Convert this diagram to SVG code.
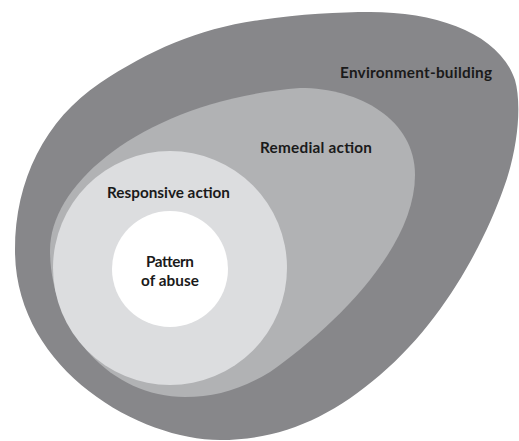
<svg xmlns="http://www.w3.org/2000/svg" width="519" height="441" viewBox="0 0 519 441">
<style>
.lbl{font-family:Lato,"Open Sans","Liberation Sans",sans-serif;font-weight:bold;font-size:15.3px;fill:#1a1a1a}
</style>
<rect width="519" height="441" fill="#ffffff"/>
<g id="environment-building">
<path d="M370,12 C440,12 500,35 515,80 C522,105 518,150 503,190 C485,240 445,320 380,375 C330,418 280,440 220,440 C140,440 15,370 15,250 C15,180 45,120 100,83 C150,50 200,28 260,20 C300,14 340,12 370,12 Z" fill="#87878a"/>
<text class="lbl" x="340" y="78" textLength="152" lengthAdjust="spacing">Environment-building</text>
</g>
<g id="remedial-action">
<path d="M300,88 C360,88 415,120 415,175 C415,250 330,330 270,372 C240,390 215,397 185,397 C110,397 50,330 50,250 C50,180 150,100 300,88 Z" fill="#b1b2b4"/>
<text class="lbl" x="260" y="153" textLength="112" lengthAdjust="spacing">Remedial action</text>
</g>
<g id="responsive-action">
<circle cx="170" cy="268" r="117" fill="#dcdddf"/>
<text class="lbl" x="107" y="198" textLength="123" lengthAdjust="spacing">Responsive action</text>
</g>
<g id="pattern-of-abuse">
<circle cx="170" cy="269" r="58" fill="#ffffff"/>
<text class="lbl" x="146" y="267" textLength="48" lengthAdjust="spacing">Pattern</text>
<text class="lbl" x="141" y="286" textLength="58" lengthAdjust="spacing">of abuse</text>
</g>
<g id="connectors"></g>
</svg>
